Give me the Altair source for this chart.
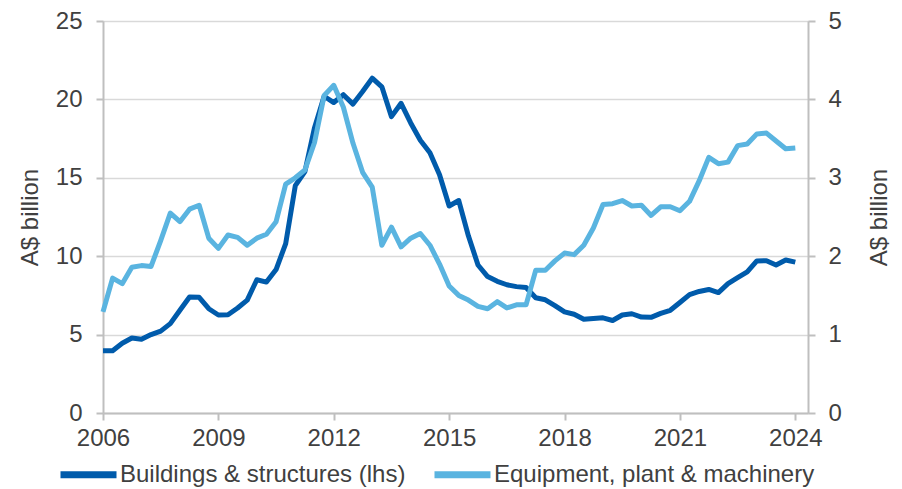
import altair as alt
import pandas as pd

# Quarterly series, March quarter 2006 to March quarter 2024
buildings = [3.97, 3.97, 4.45, 4.78, 4.70, 5.00, 5.22, 5.70, 6.55, 7.40,
             7.38, 6.65, 6.25, 6.27, 6.70, 7.20, 8.50, 8.35, 9.15, 10.8,
             14.5, 15.4, 18.2, 20.2, 19.8, 20.3, 19.7, 20.5, 21.35, 20.8,
             18.9, 19.75, 18.5, 17.4, 16.6, 15.2, 13.2, 13.55, 11.3, 9.44,
             8.70, 8.40, 8.18, 8.06, 8.00, 7.35, 7.22, 6.85, 6.45, 6.30,
             5.98, 6.03, 6.07, 5.90, 6.25, 6.33, 6.12, 6.10, 6.35, 6.55,
             7.05, 7.55, 7.75, 7.88, 7.68, 8.25, 8.63, 9.00, 9.70, 9.71,
             9.44, 9.76, 9.62]
equipment = [1.29, 1.72, 1.65, 1.86, 1.88, 1.87, 2.20, 2.55, 2.44, 2.60,
             2.65, 2.23, 2.10, 2.27, 2.24, 2.14, 2.23, 2.28, 2.44, 2.92,
             3.00, 3.10, 3.45, 4.05, 4.18, 3.90, 3.44, 3.07, 2.88, 2.14,
             2.37, 2.12, 2.23, 2.29, 2.14, 1.90, 1.62, 1.50, 1.44, 1.36,
             1.33, 1.42, 1.34, 1.38, 1.38, 1.82, 1.82, 1.94, 2.04, 2.02,
             2.14, 2.36, 2.66, 2.67, 2.71, 2.64, 2.65, 2.52, 2.63, 2.63,
             2.58, 2.70, 2.96, 3.26, 3.18, 3.20, 3.41, 3.43, 3.56, 3.57,
             3.47, 3.37, 3.38]
quarters = [2006 + q / 4 for q in range(len(buildings))]

series_names = ["Buildings & structures (lhs)", "Equipment, plant & machinery"]
series_colors = ["#005bab", "#5ab4e0"]
year_ticks = [2006, 2009, 2012, 2015, 2018, 2021, 2024]
left_ticks = [0, 5, 10, 15, 20, 25]
right_ticks = [0, 1, 2, 3, 4, 5]

df_b = pd.DataFrame({"t": quarters, "v": buildings, "s": series_names[0]})
df_e = pd.DataFrame({"t": quarters, "v": equipment, "s": series_names[1]})

FONT = "Liberation Sans"
TXT = "#404040"
AX = "#bfbfbf"

x_enc = alt.X("t:Q", scale=alt.Scale(domain=[2006, 2024.33], nice=False, zero=False),
              axis=alt.Axis(values=year_ticks, format="d", title=None, grid=False,
                            domainColor=AX, tickColor=AX, tickSize=7, domainWidth=2, tickWidth=2,
                            labelFontSize=24, labelColor=TXT, labelFont=FONT,
                            labelPadding=6, labelFlush=False))

color_enc = alt.Color("s:N", scale=alt.Scale(domain=series_names, range=series_colors),
                      legend=alt.Legend(title=None, orient="none", direction="horizontal",
                                        legendX=-46, legendY=422, padding=0,
                                        symbolType="stroke", symbolSize=3136,
                                        symbolStrokeWidth=7, labelFontSize=24,
                                        labelFont=FONT, labelColor=TXT, labelLimit=500,
                                        labelOffset=0, columnPadding=14))

left = alt.Chart(df_b).mark_line(strokeWidth=5, strokeJoin="round").encode(
    x=x_enc,
    y=alt.Y("v:Q", scale=alt.Scale(domain=[0, 25], nice=False),
            axis=alt.Axis(values=left_ticks, title="A$ billion", orient="left",
                          grid=True, gridColor="#d9d9d9", gridWidth=1.5,
                          domainColor=AX, tickColor=AX, tickSize=7, domainWidth=2, tickWidth=2,
                          labelFontSize=24, labelColor=TXT, labelFont=FONT, labelPadding=14,
                          titleFontSize=24, titleColor=TXT, titleFont=FONT,
                          titleFontWeight="normal", titlePadding=13)),
    color=color_enc,
)

right = alt.Chart(df_e).mark_line(strokeWidth=5, strokeJoin="round").encode(
    x=x_enc,
    y=alt.Y("v:Q", scale=alt.Scale(domain=[0, 5], nice=False),
            axis=alt.Axis(values=right_ticks, title="A$ billion", orient="right",
                          grid=False,
                          domainColor=AX, tickColor=AX, tickSize=7, domainWidth=2, tickWidth=2,
                          labelFontSize=24, labelColor=TXT, labelFont=FONT, labelPadding=13,
                          titleFontSize=24, titleColor=TXT, titleFont=FONT,
                          titleFontWeight="normal", titleAngle=270, titlePadding=50)),
    color=color_enc,
)

chart = alt.layer(left, right).resolve_scale(y="independent").properties(
    width=705, height=392,
    autosize=alt.AutoSizeParams(type="none"),
    padding={"left": 103, "top": 21, "right": 94, "bottom": 76},
).configure_view(stroke=None).configure(background="white")

chart.save("out.html", embed_options={"renderer": "svg", "actions": False})
